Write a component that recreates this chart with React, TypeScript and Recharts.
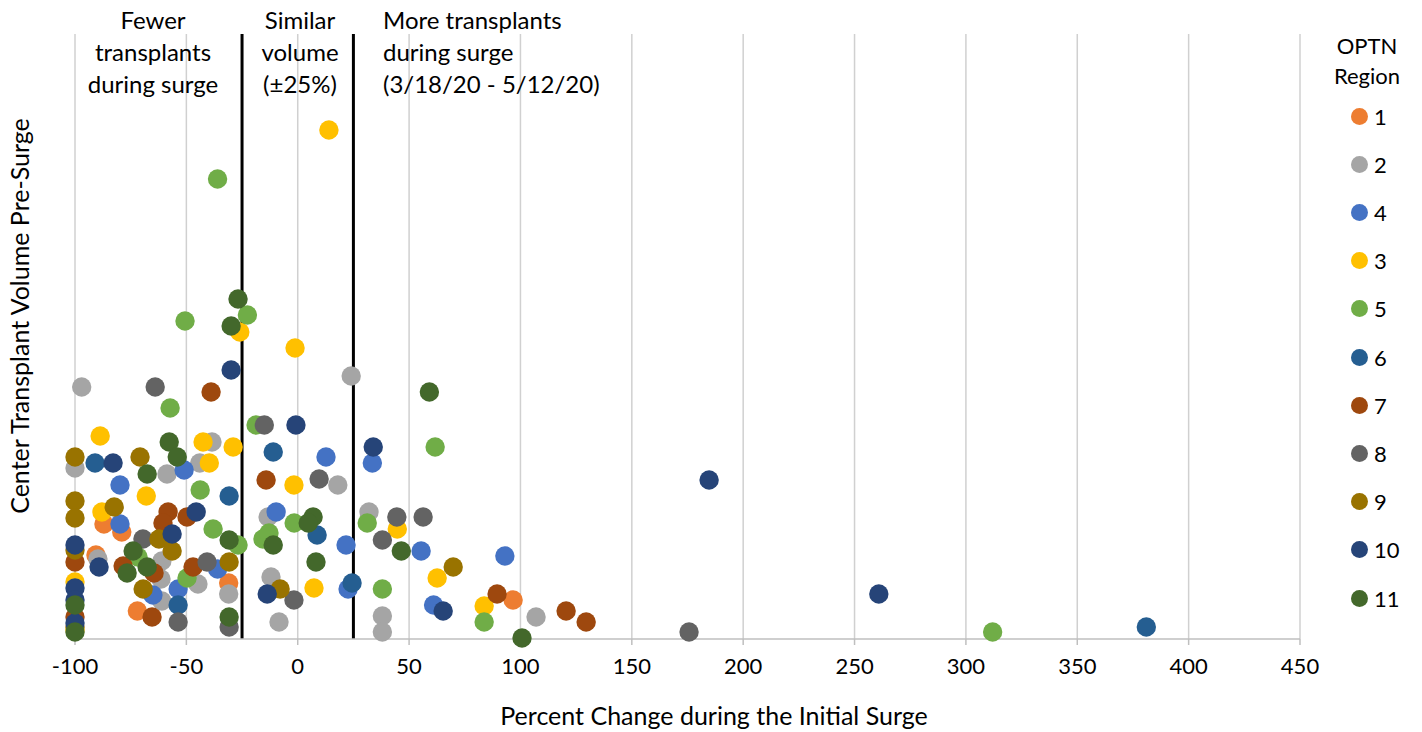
import { ScatterChart, Scatter, XAxis, YAxis, CartesianGrid, ReferenceLine } from 'recharts'

type Pt = { x: number; y: number }

// y is an index of pre-surge center volume (no scale shown on the original)
const region1: Pt[] = [
  { x: -87, y: 115 }, { x: -79, y: 107 }, { x: -90.6, y: 84 }, { x: -72, y: 28 },
  { x: -31, y: 56 }, { x: 96.7, y: 39 },
]
const region2: Pt[] = [
  { x: -97, y: 252 }, { x: -100, y: 171 }, { x: -38.5, y: 197 }, { x: -58.7, y: 165 },
  { x: -44, y: 176 }, { x: -89.7, y: 80 }, { x: -61, y: 78 }, { x: -61.4, y: 60 },
  { x: -61, y: 38 }, { x: -44.8, y: 55 }, { x: -31, y: 45 }, { x: -13.3, y: 122 },
  { x: -12, y: 62 }, { x: -8.4, y: 17 }, { x: 24, y: 263 }, { x: 18, y: 154 },
  { x: 32, y: 127 }, { x: 38, y: 23 }, { x: 38, y: 7 }, { x: 107, y: 22 },
]
const region4: Pt[] = [
  { x: -51, y: 169 }, { x: -79.8, y: 154 }, { x: -79.8, y: 115 }, { x: -65, y: 44 },
  { x: -53.7, y: 50 }, { x: -36, y: 70 }, { x: -9.7, y: 127 }, { x: 12.7, y: 182 },
  { x: 33.5, y: 176 }, { x: 21.7, y: 94 }, { x: 22.6, y: 50 }, { x: 55.4, y: 88 },
  { x: 93, y: 83 }, { x: 61, y: 34 },
]
const region3: Pt[] = [
  { x: 14, y: 509 }, { x: -26, y: 307 }, { x: -1.2, y: 291 }, { x: -88.7, y: 203 },
  { x: -42.5, y: 197 }, { x: -29, y: 192 }, { x: -39.7, y: 176 }, { x: -68, y: 143 },
  { x: -87.9, y: 127 }, { x: -1.7, y: 154 }, { x: 44.7, y: 110 }, { x: 7.3, y: 51 },
  { x: 62.6, y: 61 }, { x: 83.7, y: 33 }, { x: -100, y: 57 }, { x: -100, y: 9 },
]
const region5: Pt[] = [
  { x: -36, y: 460 }, { x: -22.6, y: 324 }, { x: -50.6, y: 318 }, { x: -57.3, y: 231 },
  { x: -18.7, y: 214 }, { x: 61.7, y: 192 }, { x: -43.8, y: 149 }, { x: -38, y: 110 },
  { x: -26.8, y: 94 }, { x: -71.7, y: 82 }, { x: -49.7, y: 61 }, { x: -1.6, y: 116 },
  { x: -15.6, y: 100 }, { x: -12.9, y: 106 }, { x: 31.2, y: 116 }, { x: 38, y: 50 },
  { x: 83.7, y: 17 }, { x: 312, y: 7 },
]
const region6: Pt[] = [
  { x: -91, y: 176 }, { x: -11, y: 187 }, { x: -30.8, y: 143 }, { x: 8.7, y: 104 },
  { x: -53.7, y: 34 }, { x: 24.4, y: 56 }, { x: 381, y: 12 },
]
const region7: Pt[] = [
  { x: -38.9, y: 247 }, { x: -58.2, y: 127 }, { x: -60.5, y: 116 }, { x: -49.7, y: 122 },
  { x: -100, y: 77 }, { x: -78.4, y: 73 }, { x: -64.5, y: 66 }, { x: -65.4, y: 22 },
  { x: -47, y: 72 }, { x: -14.2, y: 159 }, { x: 89.5, y: 45 }, { x: 120.5, y: 28 },
  { x: 129.5, y: 17 }, { x: -100, y: 22 },
]
const region8: Pt[] = [
  { x: -64, y: 252 }, { x: -15, y: 214 }, { x: 9.6, y: 160 }, { x: -69.5, y: 100 },
  { x: -40.7, y: 77 }, { x: -53.7, y: 17 }, { x: -30.8, y: 12 }, { x: -1.7, y: 39 },
  { x: 44.5, y: 122 }, { x: 56.3, y: 122 }, { x: 38, y: 99 }, { x: 175.7, y: 7 },
]
const region9: Pt[] = [
  { x: -100, y: 182 }, { x: -70.8, y: 182 }, { x: -100, y: 138 }, { x: -100, y: 121 },
  { x: -82.4, y: 132 }, { x: -62.3, y: 100 }, { x: -56.4, y: 88 }, { x: -100, y: 89 },
  { x: -69.4, y: 50 }, { x: -30.8, y: 77 }, { x: -7.9, y: 50 }, { x: 69.8, y: 72 },
  { x: -100, y: 12 },
]
const region10: Pt[] = [
  { x: -29.9, y: 269 }, { x: -0.8, y: 214 }, { x: -82.9, y: 176 }, { x: 33.9, y: 192 },
  { x: -45.6, y: 127 }, { x: -56.4, y: 105 }, { x: -100, y: 94 }, { x: -89.2, y: 72 },
  { x: -100, y: 51 }, { x: -100, y: 39 }, { x: -100, y: 16 }, { x: -13.7, y: 45 },
  { x: 65.3, y: 28 }, { x: 184.7, y: 159 }, { x: 260.9, y: 45 },
]
const region11: Pt[] = [
  { x: -26.8, y: 340 }, { x: -29.9, y: 313 }, { x: 59.1, y: 247 }, { x: -57.7, y: 197 },
  { x: -54.1, y: 182 }, { x: -67.6, y: 165 }, { x: -30.8, y: 99 }, { x: -73.9, y: 88 },
  { x: -76.6, y: 66 }, { x: -67.6, y: 72 }, { x: -30.8, y: 22 }, { x: 6.9, y: 122 },
  { x: 4.7, y: 116 }, { x: -11, y: 94 }, { x: 8.2, y: 77 }, { x: 46.5, y: 88 },
  { x: 100.7, y: 1 }, { x: -100, y: 34 }, { x: -100, y: 7 },
]

const xTicks = [-100, -50, 0, 50, 100, 150, 200, 250, 300, 350, 400, 450]
const bandEdges = [-25, 25]

const regions = [
  { name: '1', color: '#ED7D31', data: region1 },
  { name: '2', color: '#A5A5A5', data: region2 },
  { name: '4', color: '#4472C4', data: region4 },
  { name: '3', color: '#FFC000', data: region3 },
  { name: '5', color: '#70AD47', data: region5 },
  { name: '6', color: '#255E91', data: region6 },
  { name: '7', color: '#9E480E', data: region7 },
  { name: '8', color: '#636363', data: region8 },
  { name: '9', color: '#997300', data: region9 },
  { name: '10', color: '#264478', data: region10 },
  { name: '11', color: '#43682B', data: region11 },
]

const font = 'Lato, "Open Sans", sans-serif'

function dot(color: string) {
  return (props: any) => <circle cx={props.cx} cy={props.cy} r={9.7} fill={color} />
}

export default function App() {
  return (
    <div style={{ position: 'absolute', left: 0, top: 0, width: 1422, height: 732, background: '#fff', fontFamily: font, color: '#000' }}>
      <ScatterChart width={1422} height={732} margin={{ top: 34, right: 122, bottom: 33, left: 75 }}>
        <CartesianGrid horizontal={false} stroke="#D0D0D0" strokeWidth={1.5} />
        <XAxis
          type="number"
          dataKey="x"
          domain={[-100, 450]}
          ticks={xTicks}
          interval={0}
          height={60}
          stroke="#BFBFBF"
          strokeWidth={1.5}
          tickSize={6}
          tickMargin={13}
          tick={{ fill: '#000', fontSize: 22, fontFamily: font }}
        />
        <YAxis type="number" dataKey="y" domain={[0, 605]} hide />
        {bandEdges.map((v) => (
          <ReferenceLine key={v} x={v} stroke="#000" strokeWidth={3} />
        ))}
        {regions.map((r) => (
          <Scatter key={r.name} name={r.name} data={r.data} fill={r.color} shape={dot(r.color)} isAnimationActive={false} />
        ))}
      </ScatterChart>

      <div style={{ position: 'absolute', left: 50, top: 4, width: 206, textAlign: 'center', fontSize: 24, lineHeight: '32px' }}>
        Fewer<br />transplants<br />during surge
      </div>
      <div style={{ position: 'absolute', left: 245, top: 4, width: 110, textAlign: 'center', fontSize: 24, lineHeight: '32px' }}>
        Similar<br />volume<br />(±25%)
      </div>
      <div style={{ position: 'absolute', left: 383, top: 4, width: 320, textAlign: 'left', fontSize: 24, lineHeight: '32px', whiteSpace: 'nowrap' }}>
        More transplants<br />during surge<br />(3/18/20 - 5/12/20)
      </div>

      <div style={{ position: 'absolute', left: 19, top: 316, width: 0, height: 0 }}>
        <div style={{ position: 'absolute', left: -250, top: -15, width: 500, textAlign: 'center', fontSize: 25, lineHeight: '30px', transform: 'rotate(-90deg)', whiteSpace: 'nowrap' }}>
          Center Transplant Volume Pre-Surge
        </div>
      </div>
      <div style={{ position: 'absolute', left: 414, top: 699, width: 600, textAlign: 'center', fontSize: 25, lineHeight: '32px' }}>
        Percent Change during the Initial Surge
      </div>

      <div style={{ position: 'absolute', left: 1307, top: 31, width: 120, textAlign: 'center', fontSize: 22, lineHeight: '30px' }}>
        OPTN<br />Region
      </div>
      {regions.map((r, i) => (
        <div key={r.name} style={{ position: 'absolute', left: 1351, top: 103 + i * 48.2, display: 'flex', alignItems: 'center', fontSize: 22, height: 26 }}>
          <span style={{ display: 'inline-block', width: 17, height: 17, borderRadius: '50%', background: r.color, marginRight: 6 }} />
          <span>{r.name}</span>
        </div>
      ))}
    </div>
  )
}
